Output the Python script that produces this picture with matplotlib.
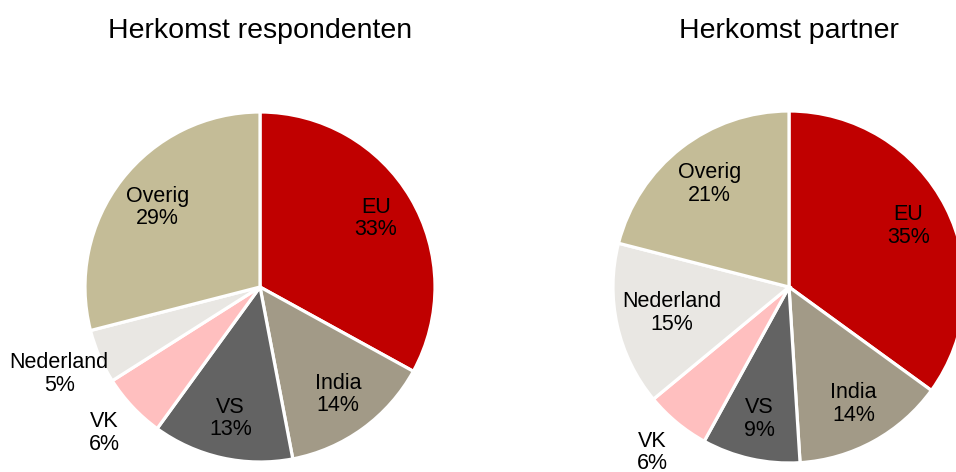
import matplotlib
matplotlib.use("Agg")
import matplotlib.pyplot as plt
import numpy as np

plt.rcParams['font.family'] = ['Liberation Sans', 'DejaVu Sans']

categories = ["EU", "India", "VS", "VK", "Nederland", "Overig"]
respondenten = [33, 14, 13, 6, 5, 29]
partner = [35, 14, 9, 6, 15, 21]
titles = ["Herkomst respondenten", "Herkomst partner"]
colors = ["#C00000", "#A29A87", "#636363", "#FFBFBF", "#E9E7E3", "#C4BC97"]

# label radial distances (fraction of radius)
label_r_left = [0.77, 0.76, 0.77, 1.22, 1.25, 0.74]
label_r_right = [0.76, 0.76, 0.77, 1.22, 0.68, 0.74]

W, H = 956, 472
fig = plt.figure(figsize=(W / 100, H / 100), dpi=100)

def draw(cx, cy, r, values, label_r, title):
    ax = fig.add_axes([(cx - r) / W, (H - cy - r) / H, 2 * r / W, 2 * r / H])
    wedges, _ = ax.pie(values, colors=colors, startangle=90, counterclock=False,
                       radius=1, wedgeprops=dict(edgecolor="white", linewidth=2.3))
    ax.set_xlim(-1, 1)
    ax.set_ylim(-1, 1)
    ax.set_aspect("equal")
    ax.axis("off")
    for w, cat, v, lr in zip(wedges, categories, values, label_r):
        ang = np.deg2rad((w.theta1 + w.theta2) / 2)
        ax.text(lr * np.cos(ang), lr * np.sin(ang), f"{cat}\n{v}%",
                ha="center", va="center", fontsize=15.5, color="black",
                linespacing=1.1)
    fig.text(cx / W, 1 - 31 / H, title, ha="center", va="center", fontsize=20.5)

draw(260, 287, 175, respondenten, label_r_left, titles[0])
draw(789, 287, 176, partner, label_r_right, titles[1])

fig.savefig("out.png", dpi=100)
